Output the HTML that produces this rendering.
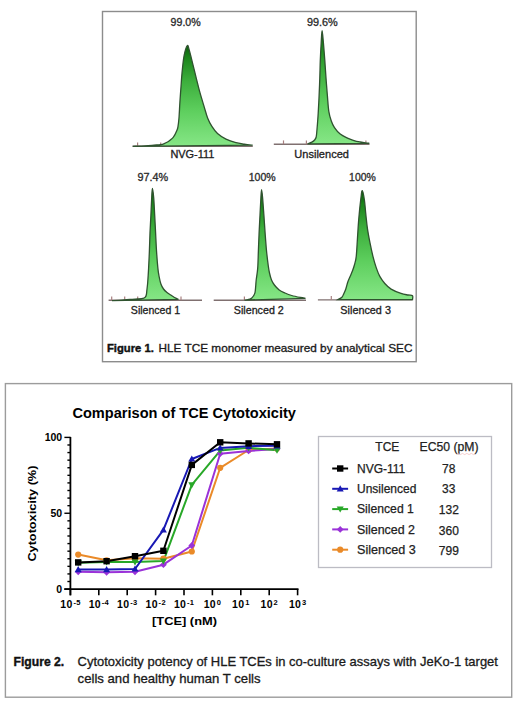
<!DOCTYPE html>
<html><head><meta charset="utf-8"><style>
html,body{margin:0;padding:0;background:#fff;width:520px;height:707px;overflow:hidden}
svg{display:block;font-family:"Liberation Sans",sans-serif}
</style></head><body>
<svg width="520" height="707" viewBox="0 0 520 707">
<defs>
<linearGradient id="g1" x1="0" y1="0" x2="0" y2="1">
<stop offset="0" stop-color="#0a5c0a"/><stop offset="0.12" stop-color="#1a841a"/><stop offset="0.35" stop-color="#3cae3c"/><stop offset="0.65" stop-color="#5ecf5e"/><stop offset="1" stop-color="#86e686"/>
</linearGradient>
</defs>
<rect width="520" height="707" fill="#fff"/>

<rect x="102.5" y="11.5" width="313.7" height="350.2" fill="none" stroke="#8c8c8c" stroke-width="1.4"/>
<line x1="132.5" y1="146.3" x2="252.8" y2="146.3" stroke="#807070" stroke-width="1.4"/>
<line x1="137.6" y1="146.3" x2="137.6" y2="142.5" stroke="#a88080" stroke-width="1.2"/>
<line x1="160.7" y1="146.3" x2="160.7" y2="142.5" stroke="#a88080" stroke-width="1.2"/>
<line x1="273.8" y1="144.2" x2="369.5" y2="144.2" stroke="#807070" stroke-width="1.4"/>
<line x1="283.5" y1="144.2" x2="283.5" y2="140.4" stroke="#a88080" stroke-width="1.2"/>
<line x1="306.4" y1="144.2" x2="306.4" y2="140.4" stroke="#a88080" stroke-width="1.2"/>
<line x1="365.9" y1="144.2" x2="365.9" y2="140.4" stroke="#a88080" stroke-width="1.2"/>
<line x1="108.6" y1="300.2" x2="202.0" y2="300.2" stroke="#807070" stroke-width="1.4"/>
<line x1="111.7" y1="300.2" x2="111.7" y2="296.4" stroke="#a88080" stroke-width="1.2"/>
<line x1="124.7" y1="300.2" x2="124.7" y2="296.4" stroke="#a88080" stroke-width="1.2"/>
<line x1="137.7" y1="300.2" x2="137.7" y2="296.4" stroke="#a88080" stroke-width="1.2"/>
<line x1="181.0" y1="300.2" x2="181.0" y2="296.4" stroke="#a88080" stroke-width="1.2"/>
<line x1="213.7" y1="300.3" x2="306.0" y2="300.3" stroke="#807070" stroke-width="1.4"/>
<line x1="244.4" y1="300.3" x2="244.4" y2="296.5" stroke="#a88080" stroke-width="1.2"/>
<line x1="317.9" y1="299.9" x2="412.5" y2="299.9" stroke="#807070" stroke-width="1.4"/>
<line x1="331.3" y1="299.9" x2="331.3" y2="296.1" stroke="#a88080" stroke-width="1.2"/>
<path d="M132.80,146.30 C134.83,146.23 141.47,146.08 145.00,145.90 C148.53,145.72 151.38,145.42 154.00,145.20 C156.62,144.98 158.92,144.90 160.70,144.60 C162.48,144.30 163.48,143.87 164.70,143.40 C165.92,142.93 166.97,142.45 168.00,141.80 C169.03,141.15 170.03,140.25 170.90,139.50 C171.77,138.75 172.55,138.07 173.20,137.30 C173.85,136.53 174.23,135.95 174.80,134.90 C175.37,133.85 176.08,132.30 176.60,131.00 C177.12,129.70 177.50,129.30 177.90,127.10 C178.30,124.90 178.67,121.95 179.00,117.80 C179.33,113.65 179.57,107.38 179.90,102.20 C180.23,97.02 180.62,91.88 181.00,86.70 C181.38,81.52 181.68,76.28 182.20,71.10 C182.72,65.92 183.25,59.85 184.10,55.60 C184.95,51.35 186.45,46.53 187.30,45.60 C188.15,44.67 188.28,46.92 189.20,50.00 C190.12,53.08 191.62,59.38 192.80,64.10 C193.98,68.82 195.12,73.58 196.30,78.30 C197.48,83.02 198.60,87.68 199.90,92.40 C201.20,97.12 202.82,102.35 204.10,106.60 C205.38,110.85 206.30,114.60 207.60,117.90 C208.90,121.20 210.25,123.80 211.90,126.40 C213.55,129.00 215.15,131.38 217.50,133.50 C219.85,135.62 222.93,137.58 226.00,139.10 C229.07,140.62 232.83,141.77 235.90,142.60 C238.97,143.43 241.62,143.67 244.40,144.10 C247.18,144.53 251.23,145.02 252.60,145.20 Z" fill="url(#g1)" stroke="#2f532f" stroke-width="1.3"/>
<path d="M307.50,143.90 C308.23,143.60 310.72,142.75 311.90,142.10 C313.08,141.45 313.88,140.85 314.60,140.00 C315.32,139.15 315.82,138.58 316.20,137.00 C316.58,135.42 316.67,133.00 316.90,130.50 C317.13,128.00 317.38,124.85 317.60,122.00 C317.82,119.15 317.95,117.77 318.20,113.40 C318.45,109.03 318.83,101.68 319.10,95.80 C319.37,89.92 319.60,84.00 319.80,78.10 C320.00,72.20 320.07,66.30 320.30,60.40 C320.53,54.50 320.90,47.65 321.20,42.70 C321.50,37.75 321.73,30.70 322.10,30.70 C322.47,30.70 322.95,37.75 323.40,42.70 C323.85,47.65 324.37,54.50 324.80,60.40 C325.23,66.30 325.57,72.20 326.00,78.10 C326.43,84.00 326.93,90.27 327.40,95.80 C327.87,101.33 328.15,107.10 328.80,111.30 C329.45,115.50 330.35,118.28 331.30,121.00 C332.25,123.72 333.02,125.42 334.50,127.60 C335.98,129.78 338.03,132.35 340.20,134.10 C342.37,135.85 345.20,137.02 347.50,138.10 C349.80,139.18 351.92,139.95 354.00,140.60 C356.08,141.25 358.08,141.63 360.00,142.00 C361.92,142.37 363.95,142.58 365.50,142.80 C367.05,143.02 368.67,143.22 369.30,143.30 Z" fill="url(#g1)" stroke="#2f532f" stroke-width="1.3"/>
<path d="M112.00,300.60 C113.67,300.52 119.00,300.30 122.00,300.10 C125.00,299.90 127.38,299.60 130.00,299.40 C132.62,299.20 135.78,299.03 137.70,298.90 C139.62,298.77 140.48,298.73 141.50,298.60 C142.52,298.47 143.17,298.33 143.80,298.10 C144.43,297.87 144.87,297.80 145.30,297.20 C145.73,296.60 146.13,295.70 146.40,294.50 C146.67,293.30 146.68,292.00 146.90,290.00 C147.12,288.00 147.42,286.10 147.70,282.50 C147.98,278.90 148.32,273.70 148.60,268.40 C148.88,263.10 149.17,256.60 149.40,250.70 C149.63,244.80 149.75,238.88 150.00,233.00 C150.25,227.12 150.62,221.28 150.90,215.40 C151.18,209.52 151.45,202.18 151.70,197.70 C151.95,193.22 152.07,188.50 152.40,188.50 C152.73,188.50 153.32,193.22 153.70,197.70 C154.08,202.18 154.38,209.52 154.70,215.40 C155.02,221.28 155.30,227.12 155.60,233.00 C155.90,238.88 156.12,244.80 156.50,250.70 C156.88,256.60 157.48,264.18 157.90,268.40 C158.32,272.62 158.50,273.40 159.00,276.00 C159.50,278.60 160.15,281.83 160.90,284.00 C161.65,286.17 162.48,287.58 163.50,289.00 C164.52,290.42 165.80,291.50 167.00,292.50 C168.20,293.50 169.45,294.17 170.70,295.00 C171.95,295.83 173.20,296.78 174.50,297.50 C175.80,298.22 177.83,299.00 178.50,299.30 Z" fill="url(#g1)" stroke="#2f532f" stroke-width="1.3"/>
<path d="M244.50,300.10 C245.08,300.02 246.92,299.85 248.00,299.60 C249.08,299.35 250.10,299.20 251.00,298.60 C251.90,298.00 252.73,296.98 253.40,296.00 C254.07,295.02 254.62,294.32 255.00,292.70 C255.38,291.08 255.50,288.42 255.70,286.30 C255.90,284.18 255.87,282.98 256.20,280.00 C256.53,277.02 257.33,273.28 257.70,268.40 C258.07,263.52 258.17,256.60 258.40,250.70 C258.63,244.80 258.83,238.88 259.10,233.00 C259.37,227.12 259.70,221.28 260.00,215.40 C260.30,209.52 260.63,201.98 260.90,197.70 C261.17,193.42 261.32,189.70 261.60,189.70 C261.88,189.70 262.22,193.42 262.60,197.70 C262.98,201.98 263.48,209.52 263.90,215.40 C264.32,221.28 264.67,227.12 265.10,233.00 C265.53,238.88 265.97,245.20 266.50,250.70 C267.03,256.20 267.80,262.28 268.30,266.00 C268.80,269.72 268.97,270.67 269.50,273.00 C270.03,275.33 270.68,278.00 271.50,280.00 C272.32,282.00 273.12,283.33 274.40,285.00 C275.68,286.67 277.43,288.67 279.20,290.00 C280.97,291.33 282.92,292.08 285.00,293.00 C287.08,293.92 289.13,294.75 291.70,295.50 C294.27,296.25 298.10,297.03 300.40,297.50 C302.70,297.97 304.65,298.17 305.50,298.30 Z" fill="url(#g1)" stroke="#2f532f" stroke-width="1.3"/>
<path d="M338.00,299.60 C338.65,299.22 340.93,298.27 341.90,297.30 C342.87,296.33 343.15,295.18 343.80,293.80 C344.45,292.42 345.15,290.92 345.80,289.00 C346.45,287.08 346.98,284.38 347.70,282.30 C348.42,280.22 349.30,278.42 350.10,276.50 C350.90,274.58 351.78,272.72 352.50,270.80 C353.22,268.88 353.78,267.32 354.40,265.00 C355.02,262.68 355.68,261.45 356.20,256.90 C356.72,252.35 357.07,244.10 357.50,237.70 C357.93,231.30 358.25,224.92 358.80,218.50 C359.35,212.08 360.22,203.85 360.80,199.20 C361.38,194.55 361.70,190.47 362.30,190.60 C362.90,190.73 363.82,196.08 364.40,200.00 C364.98,203.92 365.30,209.38 365.80,214.10 C366.30,218.82 366.72,223.58 367.40,228.30 C368.08,233.02 368.97,237.68 369.90,242.40 C370.83,247.12 371.93,252.35 373.00,256.60 C374.07,260.85 375.17,264.60 376.30,267.90 C377.43,271.20 378.38,273.80 379.80,276.40 C381.22,279.00 382.92,281.38 384.80,283.50 C386.68,285.62 388.40,287.45 391.10,289.10 C393.80,290.75 398.18,292.42 401.00,293.40 C403.82,294.38 406.08,294.62 408.00,295.00 C409.92,295.38 411.75,294.93 412.50,295.70 C413.25,296.47 412.50,298.95 412.50,299.60 Z" fill="url(#g1)" stroke="#2f532f" stroke-width="1.3"/>
<text x="170.60" y="26.10" font-size="10.5" fill="#2a2a2a" stroke="#2a2a2a" stroke-width="0.3" textLength="30.10" lengthAdjust="spacingAndGlyphs">99.0%</text>
<text x="306.95" y="25.90" font-size="10.5" fill="#2a2a2a" stroke="#2a2a2a" stroke-width="0.3" textLength="30.85" lengthAdjust="spacingAndGlyphs">99.6%</text>
<text x="137.40" y="180.80" font-size="10.5" fill="#2a2a2a" stroke="#2a2a2a" stroke-width="0.3" textLength="30.70" lengthAdjust="spacingAndGlyphs">97.4%</text>
<text x="248.70" y="180.80" font-size="10.5" fill="#2a2a2a" stroke="#2a2a2a" stroke-width="0.3" textLength="27.00" lengthAdjust="spacingAndGlyphs">100%</text>
<text x="349.10" y="180.80" font-size="10.5" fill="#2a2a2a" stroke="#2a2a2a" stroke-width="0.3" textLength="26.70" lengthAdjust="spacingAndGlyphs">100%</text>
<text x="170.40" y="158.00" font-size="10.5" fill="#222" stroke="#222" stroke-width="0.3" textLength="44.00" lengthAdjust="spacingAndGlyphs">NVG-111</text>
<text x="294.35" y="158.00" font-size="10.5" fill="#222" stroke="#222" stroke-width="0.3" textLength="54.60" lengthAdjust="spacingAndGlyphs">Unsilenced</text>
<text x="130.85" y="314.00" font-size="10.5" fill="#222" stroke="#222" stroke-width="0.3" textLength="49.35" lengthAdjust="spacingAndGlyphs">Silenced 1</text>
<text x="233.85" y="314.00" font-size="10.5" fill="#222" stroke="#222" stroke-width="0.3" textLength="49.95" lengthAdjust="spacingAndGlyphs">Silenced 2</text>
<text x="340.35" y="314.20" font-size="10.5" fill="#222" stroke="#222" stroke-width="0.3" textLength="50.60" lengthAdjust="spacingAndGlyphs">Silenced 3</text>
<text x="106.9" y="351.6" font-size="10.8" fill="#111" font-weight="bold" stroke="#111" stroke-width="0.4" textLength="46.9" lengthAdjust="spacingAndGlyphs">Figure 1.</text>
<text x="158.5" y="351.6" font-size="10.8" fill="#1a1a1a" stroke="#1a1a1a" stroke-width="0.3" textLength="254" lengthAdjust="spacingAndGlyphs">HLE TCE monomer measured by analytical SEC</text>
<rect x="5.4" y="383.6" width="506.3" height="313.6" fill="none" stroke="#9c9c9c" stroke-width="1.4"/>
<text x="72.4" y="417.5" font-size="14.3" font-weight="bold" fill="#000" textLength="223.6" lengthAdjust="spacingAndGlyphs">Comparison of TCE Cytotoxicity</text>
<line x1="70.4" y1="436.9" x2="70.4" y2="595.3" stroke="#000" stroke-width="1.8"/>
<line x1="64.3" y1="589.1" x2="298.5" y2="589.1" stroke="#000" stroke-width="1.8"/>
<line x1="64.4" y1="589.10" x2="70.4" y2="589.10" stroke="#000" stroke-width="1.4"/>
<line x1="67.4" y1="581.51" x2="70.4" y2="581.51" stroke="#000" stroke-width="1.4"/>
<line x1="67.4" y1="573.93" x2="70.4" y2="573.93" stroke="#000" stroke-width="1.4"/>
<line x1="67.4" y1="566.35" x2="70.4" y2="566.35" stroke="#000" stroke-width="1.4"/>
<line x1="67.4" y1="558.76" x2="70.4" y2="558.76" stroke="#000" stroke-width="1.4"/>
<line x1="67.4" y1="551.18" x2="70.4" y2="551.18" stroke="#000" stroke-width="1.4"/>
<line x1="67.4" y1="543.59" x2="70.4" y2="543.59" stroke="#000" stroke-width="1.4"/>
<line x1="67.4" y1="536.00" x2="70.4" y2="536.00" stroke="#000" stroke-width="1.4"/>
<line x1="67.4" y1="528.42" x2="70.4" y2="528.42" stroke="#000" stroke-width="1.4"/>
<line x1="67.4" y1="520.84" x2="70.4" y2="520.84" stroke="#000" stroke-width="1.4"/>
<line x1="64.4" y1="513.25" x2="70.4" y2="513.25" stroke="#000" stroke-width="1.4"/>
<line x1="67.4" y1="505.67" x2="70.4" y2="505.67" stroke="#000" stroke-width="1.4"/>
<line x1="67.4" y1="498.08" x2="70.4" y2="498.08" stroke="#000" stroke-width="1.4"/>
<line x1="67.4" y1="490.50" x2="70.4" y2="490.50" stroke="#000" stroke-width="1.4"/>
<line x1="67.4" y1="482.91" x2="70.4" y2="482.91" stroke="#000" stroke-width="1.4"/>
<line x1="67.4" y1="475.33" x2="70.4" y2="475.33" stroke="#000" stroke-width="1.4"/>
<line x1="67.4" y1="467.74" x2="70.4" y2="467.74" stroke="#000" stroke-width="1.4"/>
<line x1="67.4" y1="460.16" x2="70.4" y2="460.16" stroke="#000" stroke-width="1.4"/>
<line x1="67.4" y1="452.57" x2="70.4" y2="452.57" stroke="#000" stroke-width="1.4"/>
<line x1="67.4" y1="444.99" x2="70.4" y2="444.99" stroke="#000" stroke-width="1.4"/>
<line x1="64.4" y1="437.40" x2="70.4" y2="437.40" stroke="#000" stroke-width="1.4"/>
<line x1="70.40" y1="589.1" x2="70.40" y2="595.3" stroke="#000" stroke-width="1.6"/>
<line x1="98.80" y1="589.1" x2="98.80" y2="595.3" stroke="#000" stroke-width="1.6"/>
<line x1="127.20" y1="589.1" x2="127.20" y2="595.3" stroke="#000" stroke-width="1.6"/>
<line x1="155.60" y1="589.1" x2="155.60" y2="595.3" stroke="#000" stroke-width="1.6"/>
<line x1="184.00" y1="589.1" x2="184.00" y2="595.3" stroke="#000" stroke-width="1.6"/>
<line x1="212.40" y1="589.1" x2="212.40" y2="595.3" stroke="#000" stroke-width="1.6"/>
<line x1="240.80" y1="589.1" x2="240.80" y2="595.3" stroke="#000" stroke-width="1.6"/>
<line x1="269.20" y1="589.1" x2="269.20" y2="595.3" stroke="#000" stroke-width="1.6"/>
<line x1="297.60" y1="589.1" x2="297.60" y2="595.3" stroke="#000" stroke-width="1.6"/>
<text x="62.2" y="592.9" font-size="10.5" font-weight="bold" text-anchor="end">0</text>
<text x="62.2" y="517.0" font-size="10.5" font-weight="bold" text-anchor="end">50</text>
<text x="62.2" y="441.2" font-size="10.5" font-weight="bold" text-anchor="end">100</text>
<text x="70.5" y="607.6" font-size="10.5" font-weight="bold" text-anchor="middle" letter-spacing="0.3">10<tspan font-size="7.5" dy="-3" dx="0.8">-5</tspan></text>
<text x="98.9" y="607.6" font-size="10.5" font-weight="bold" text-anchor="middle" letter-spacing="0.3">10<tspan font-size="7.5" dy="-3" dx="0.8">-4</tspan></text>
<text x="127.3" y="607.6" font-size="10.5" font-weight="bold" text-anchor="middle" letter-spacing="0.3">10<tspan font-size="7.5" dy="-3" dx="0.8">-3</tspan></text>
<text x="155.7" y="607.6" font-size="10.5" font-weight="bold" text-anchor="middle" letter-spacing="0.3">10<tspan font-size="7.5" dy="-3" dx="0.8">-2</tspan></text>
<text x="184.1" y="607.6" font-size="10.5" font-weight="bold" text-anchor="middle" letter-spacing="0.3">10<tspan font-size="7.5" dy="-3" dx="0.8">-1</tspan></text>
<text x="212.5" y="607.6" font-size="10.5" font-weight="bold" text-anchor="middle" letter-spacing="0.3">10<tspan font-size="7.5" dy="-3" dx="0.8">0</tspan></text>
<text x="240.9" y="607.6" font-size="10.5" font-weight="bold" text-anchor="middle" letter-spacing="0.3">10<tspan font-size="7.5" dy="-3" dx="0.8">1</tspan></text>
<text x="269.3" y="607.6" font-size="10.5" font-weight="bold" text-anchor="middle" letter-spacing="0.3">10<tspan font-size="7.5" dy="-3" dx="0.8">2</tspan></text>
<text x="297.7" y="607.6" font-size="10.5" font-weight="bold" text-anchor="middle" letter-spacing="0.3">10<tspan font-size="7.5" dy="-3" dx="0.8">3</tspan></text>
<text x="152" y="625.2" font-size="11" font-weight="bold" textLength="65" lengthAdjust="spacingAndGlyphs">[TCE] (nM)</text>
<text transform="translate(35.6,513.6) rotate(-90)" font-size="11.6" font-weight="bold" text-anchor="middle" textLength="96" lengthAdjust="spacingAndGlyphs">Cytotoxicity (%)</text>
<polyline points="78.2,554.6 106.6,560.3 135.0,558.2 163.4,558.7 191.8,551.5 220.2,467.8 248.6,450.0 277.0,448.5" fill="none" stroke="#ea8a28" stroke-width="2" stroke-linejoin="round"/>
<polyline points="78.2,571.8 106.6,572.3 135.0,571.8 163.4,564.7 191.8,545.5 220.2,453.7 248.6,450.9 277.0,449.1" fill="none" stroke="#9a32d8" stroke-width="2" stroke-linejoin="round"/>
<polyline points="78.2,562.7 106.6,562.0 135.0,562.0 163.4,561.1 191.8,484.9 220.2,450.6 248.6,447.8 277.0,450.3" fill="none" stroke="#28a828" stroke-width="2" stroke-linejoin="round"/>
<polyline points="78.2,569.6 106.6,569.6 135.0,569.0 163.4,529.9 191.8,459.0 220.2,447.9 248.6,446.2 277.0,445.8" fill="none" stroke="#1818b4" stroke-width="2" stroke-linejoin="round"/>
<polyline points="78.2,562.4 106.6,561.2 135.0,556.2 163.4,550.8 191.8,464.9 220.2,442.3 248.6,443.4 277.0,444.3" fill="none" stroke="#000000" stroke-width="2" stroke-linejoin="round"/>
<circle cx="78.2" cy="554.6" r="3.10" fill="#ea8a28"/>
<circle cx="106.6" cy="560.3" r="3.10" fill="#ea8a28"/>
<circle cx="135.0" cy="558.2" r="3.10" fill="#ea8a28"/>
<circle cx="163.4" cy="558.7" r="3.10" fill="#ea8a28"/>
<circle cx="191.8" cy="551.5" r="3.10" fill="#ea8a28"/>
<circle cx="220.2" cy="467.8" r="3.10" fill="#ea8a28"/>
<circle cx="248.6" cy="450.0" r="3.10" fill="#ea8a28"/>
<circle cx="277.0" cy="448.5" r="3.10" fill="#ea8a28"/>
<path d="M78.2,568.4 L81.6,571.8 L78.2,575.2 L74.8,571.8 Z" fill="#9a32d8"/>
<path d="M106.6,568.9 L110.0,572.3 L106.6,575.7 L103.2,572.3 Z" fill="#9a32d8"/>
<path d="M135.0,568.4 L138.4,571.8 L135.0,575.2 L131.6,571.8 Z" fill="#9a32d8"/>
<path d="M163.4,561.3 L166.8,564.7 L163.4,568.1 L160.0,564.7 Z" fill="#9a32d8"/>
<path d="M191.8,542.1 L195.2,545.5 L191.8,548.9 L188.4,545.5 Z" fill="#9a32d8"/>
<path d="M220.2,450.3 L223.6,453.7 L220.2,457.1 L216.8,453.7 Z" fill="#9a32d8"/>
<path d="M248.6,447.5 L252.0,450.9 L248.6,454.3 L245.2,450.9 Z" fill="#9a32d8"/>
<path d="M277.0,445.7 L280.4,449.1 L277.0,452.5 L273.6,449.1 Z" fill="#9a32d8"/>
<path d="M78.2,566.2 L81.7,560.1 L74.7,560.1 Z" fill="#28a828"/>
<path d="M106.6,565.5 L110.1,559.4 L103.1,559.4 Z" fill="#28a828"/>
<path d="M135.0,565.5 L138.5,559.4 L131.5,559.4 Z" fill="#28a828"/>
<path d="M163.4,564.6 L166.9,558.5 L159.9,558.5 Z" fill="#28a828"/>
<path d="M191.8,488.4 L195.3,482.2 L188.3,482.2 Z" fill="#28a828"/>
<path d="M220.2,454.1 L223.7,448.0 L216.7,448.0 Z" fill="#28a828"/>
<path d="M248.6,451.3 L252.1,445.1 L245.1,445.1 Z" fill="#28a828"/>
<path d="M277.0,453.8 L280.5,447.7 L273.5,447.7 Z" fill="#28a828"/>
<path d="M78.2,566.1 L81.7,572.2 L74.7,572.2 Z" fill="#1818b4"/>
<path d="M106.6,566.1 L110.1,572.2 L103.1,572.2 Z" fill="#1818b4"/>
<path d="M135.0,565.5 L138.5,571.6 L131.5,571.6 Z" fill="#1818b4"/>
<path d="M163.4,526.4 L166.9,532.5 L159.9,532.5 Z" fill="#1818b4"/>
<path d="M191.8,455.5 L195.3,461.6 L188.3,461.6 Z" fill="#1818b4"/>
<path d="M220.2,444.4 L223.7,450.5 L216.7,450.5 Z" fill="#1818b4"/>
<path d="M248.6,442.7 L252.1,448.9 L245.1,448.9 Z" fill="#1818b4"/>
<path d="M277.0,442.3 L280.5,448.4 L273.5,448.4 Z" fill="#1818b4"/>
<rect x="75.0" y="559.2" width="6.4" height="6.4" fill="#000000"/>
<rect x="103.4" y="558.0" width="6.4" height="6.4" fill="#000000"/>
<rect x="131.8" y="553.0" width="6.4" height="6.4" fill="#000000"/>
<rect x="160.2" y="547.6" width="6.4" height="6.4" fill="#000000"/>
<rect x="188.6" y="461.7" width="6.4" height="6.4" fill="#000000"/>
<rect x="217.0" y="439.1" width="6.4" height="6.4" fill="#000000"/>
<rect x="245.4" y="440.2" width="6.4" height="6.4" fill="#000000"/>
<rect x="273.8" y="441.1" width="6.4" height="6.4" fill="#000000"/>
<rect x="318.5" y="436.5" width="173" height="131" fill="none" stroke="#bcbcc4" stroke-width="1.3"/>
<text x="387.3" y="450.8" font-size="12" fill="#222" stroke="#222" stroke-width="0.25" text-anchor="middle">TCE</text>
<text x="419.6" y="450.8" font-size="12" fill="#222" stroke="#222" stroke-width="0.25" textLength="59" lengthAdjust="spacingAndGlyphs">EC50 (pM)</text>
<line x1="332.2" y1="468.5" x2="348.1" y2="468.5" stroke="#000" stroke-width="2"/>
<rect x="337.0" y="465.3" width="6.4" height="6.4" fill="#000"/>
<text x="357" y="472.6" font-size="12" fill="#222" stroke="#222" stroke-width="0.25">NVG-111</text>
<text x="448.8" y="472.6" font-size="12" fill="#222" stroke="#222" stroke-width="0.25" text-anchor="middle">78</text>
<line x1="332.2" y1="488.8" x2="348.1" y2="488.8" stroke="#1818b4" stroke-width="2"/>
<path d="M340.2,485.3 L343.7,491.4 L336.7,491.4 Z" fill="#1818b4"/>
<text x="357" y="493.0" font-size="12" fill="#222" stroke="#222" stroke-width="0.25">Unsilenced</text>
<text x="448.8" y="493.3" font-size="12" fill="#222" stroke="#222" stroke-width="0.25" text-anchor="middle">33</text>
<line x1="332.2" y1="509.1" x2="348.1" y2="509.1" stroke="#28a828" stroke-width="2"/>
<path d="M340.2,512.6 L343.7,506.5 L336.7,506.5 Z" fill="#28a828"/>
<text x="357" y="513.3" font-size="12" fill="#222" stroke="#222" stroke-width="0.25" textLength="56.8" lengthAdjust="spacingAndGlyphs">Silenced 1</text>
<text x="448.8" y="513.9" font-size="12" fill="#222" stroke="#222" stroke-width="0.25" text-anchor="middle">132</text>
<line x1="332.2" y1="529.4" x2="348.1" y2="529.4" stroke="#9a32d8" stroke-width="2"/>
<path d="M340.2,526.0 L343.6,529.4 L340.2,532.8 L336.8,529.4 Z" fill="#9a32d8"/>
<text x="357" y="533.6" font-size="12" fill="#222" stroke="#222" stroke-width="0.25" textLength="58.0" lengthAdjust="spacingAndGlyphs">Silenced 2</text>
<text x="448.8" y="534.5" font-size="12" fill="#222" stroke="#222" stroke-width="0.25" text-anchor="middle">360</text>
<line x1="332.2" y1="549.7" x2="348.1" y2="549.7" stroke="#ea8a28" stroke-width="2"/>
<circle cx="340.2" cy="549.7" r="3.10" fill="#ea8a28"/>
<text x="357" y="554.0" font-size="12" fill="#222" stroke="#222" stroke-width="0.25" textLength="58.8" lengthAdjust="spacingAndGlyphs">Silenced 3</text>
<text x="448.8" y="555.2" font-size="12" fill="#222" stroke="#222" stroke-width="0.25" text-anchor="middle">799</text>
<path d="M457,454 q1.1,-1.2 2.2,0 t2.2,0 t2.2,0 t2.2,0 t2.2,0 t2.2,0 t2.2,0 t2.2,0" fill="none" stroke="#f0b8b8" stroke-width="0.7"/>
<text x="13.5" y="666.2" font-size="12.8" fill="#111" font-weight="bold" stroke="#111" stroke-width="0.4" textLength="50.7" lengthAdjust="spacingAndGlyphs">Figure 2.</text>
<text x="77.6" y="666.2" font-size="12.8" fill="#1a1a1a" stroke="#1a1a1a" stroke-width="0.3" textLength="420.3" lengthAdjust="spacingAndGlyphs">Cytotoxicity potency of HLE TCEs in co-culture assays with JeKo-1 target</text>
<text x="77.6" y="683.2" font-size="12.8" fill="#1a1a1a" stroke="#1a1a1a" stroke-width="0.3" textLength="183" lengthAdjust="spacingAndGlyphs">cells and healthy human T cells</text>
</svg></body></html>
